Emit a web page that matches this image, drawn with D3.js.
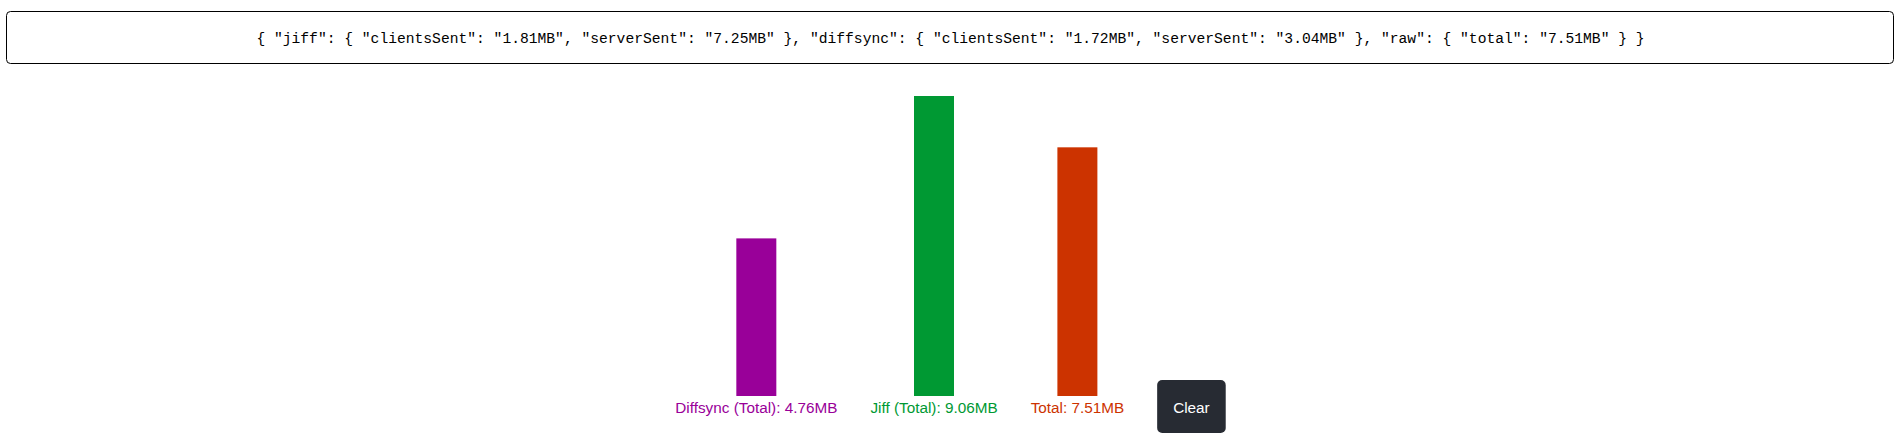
<!DOCTYPE html>
<html>
<head>
<meta charset="utf-8">
<script src="https://cdn.jsdelivr.net/npm/d3@7"></script>
<style>
  html, body { margin: 0; padding: 0; background: #fff; }
  svg { display: block; }
</style>
</head>
<body>
<svg id="chart" width="1901" height="442"></svg>
<script>
// ---- data ----
const categories = ["Diffsync (Total)", "Jiff (Total)", "Total"];
const totals = [4.76, 9.06, 7.51];
const barColors = ["#990099", "#009933", "#cc3300"];
const summaryGroups = ["jiff", "diffsync", "raw"];
const summaryFields = [["clientsSent", "serverSent"], ["clientsSent", "serverSent"], ["total"]];
const summaryValues = [[1.81, 7.25], [1.72, 3.04], [7.51]];
const unit = "MB";
const buttonLabel = "Clear";

// ---- layout ----
const W = 1901, H = 442;
const centerX = W / 2;
const baseY = 396;
const maxBarH = 300;
const barW = 40;
const gap = 33;
const labelFont = "'Liberation Sans', Arial, sans-serif";
const labelSize = 15.3;

const svg = d3.select("#chart");

// summary box
const summaryText = "{ " + summaryGroups.map((g, i) =>
  '"' + g + '": { ' + summaryFields[i].map((f, j) =>
    '"' + f + '": "' + summaryValues[i][j].toFixed(2) + unit + '"').join(", ") + " }"
).join(", ") + " }";

svg.append("rect")
  .attr("x", 6.5).attr("y", 11.5)
  .attr("width", 1887).attr("height", 52)
  .attr("rx", 4).attr("ry", 4)
  .attr("fill", "#fff").attr("stroke", "#000").attr("stroke-width", 1);

svg.append("text")
  .attr("x", centerX).attr("y", 43)
  .attr("text-anchor", "middle")
  .attr("font-family", "'Liberation Mono', 'DejaVu Sans Mono', monospace")
  .attr("font-size", 14.65)
  .attr("fill", "#000")
  .text(summaryText);

// labels (measured first to lay out like an inline flex row)
const labelTexts = categories.map((c, i) => c + ": " + totals[i].toFixed(2) + unit);
const labels = svg.append("g").selectAll("text")
  .data(labelTexts)
  .join("text")
  .attr("y", 413)
  .attr("text-anchor", "middle")
  .attr("font-family", labelFont)
  .attr("font-size", labelSize)
  .attr("fill", (d, i) => barColors[i])
  .text(d => d);

const widths = labels.nodes().map(n => n.getComputedTextLength());

// button text measure
const btnText = svg.append("text")
  .attr("font-family", labelFont)
  .attr("font-size", labelSize)
  .attr("fill", "#fff")
  .attr("text-anchor", "middle")
  .text(buttonLabel);
const btnTextW = btnText.node().getComputedTextLength();
const btnW = btnTextW + 32;

const totalW = d3.sum(widths) + btnW + gap * categories.length;
let cursor = centerX - totalW / 2;
const centers = [];
widths.forEach(w => { centers.push(cursor + w / 2); cursor += w + gap; });
const btnX = cursor;

const x = d3.scaleOrdinal().domain(categories).range(centers);
const y = d3.scaleLinear().domain([0, d3.max(totals)]).range([0, maxBarH]);

labels.attr("x", (d, i) => x(categories[i]));

svg.append("g").selectAll("rect")
  .data(categories)
  .join("rect")
  .attr("x", (d) => x(d) - barW / 2)
  .attr("y", (d, i) => baseY - y(totals[i]))
  .attr("width", barW)
  .attr("height", (d, i) => y(totals[i]))
  .attr("fill", (d, i) => barColors[i]);

// button
svg.insert("rect", () => btnText.node())
  .attr("x", btnX).attr("y", 380)
  .attr("width", btnW).attr("height", 53)
  .attr("rx", 5).attr("ry", 5)
  .attr("fill", "#272b33");
btnText.attr("x", btnX + btnW / 2).attr("y", 413);
</script>
</body>
</html>
